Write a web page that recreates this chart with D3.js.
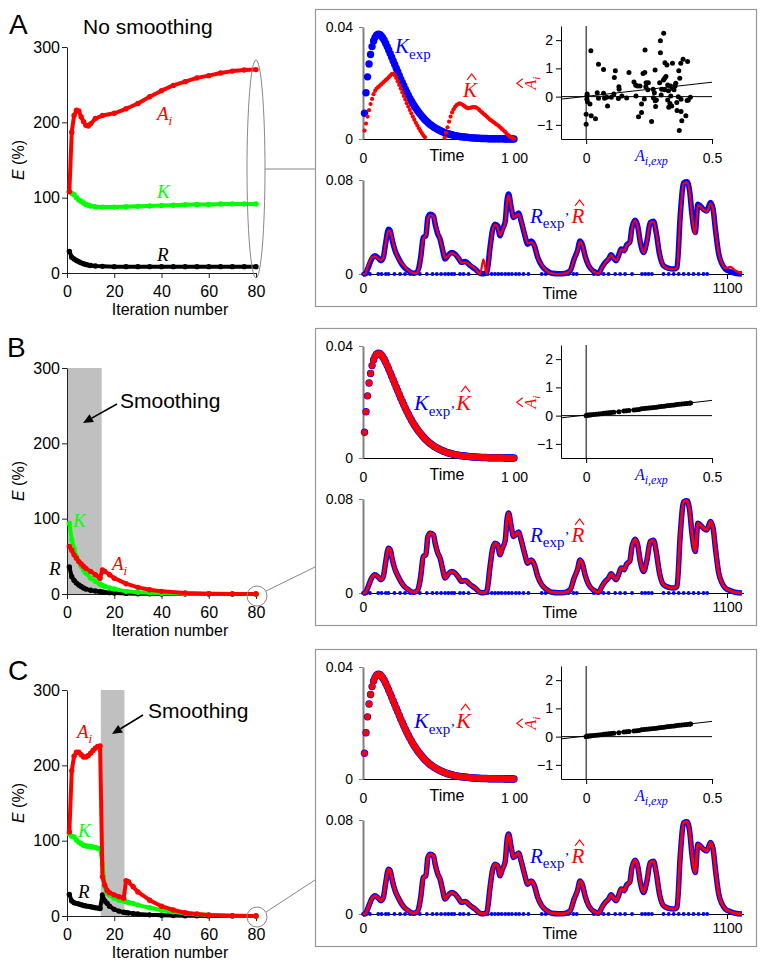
<!DOCTYPE html>
<html><head><meta charset="utf-8">
<script src="https://cdn.jsdelivr.net/npm/d3@7"></script>
<style>body{margin:0;background:#fff}svg{display:block}</style>
</head><body><svg id="c" width="766" height="967"></svg>
<script>
// ---------------- DATA ----------------
const xTicksIter = [0, 20, 40, 60, 80];
const yTicksE = [0, 100, 200, 300];

// Panel A (no smoothing)
const iterA = [1,2,3,4,5,6,7,8,9,10,12,15,20,25,30,35,40,45,50,55,60,65,70,75,80];
const aiA = [108,187,209,216,215,207,201,196,195,198,205,209,212,218,225,234,242,249,254,259,262,265.5,268,269.5,270];
const kA  = [108,106,104,100,97,95,93,91,90,89,88,87.5,87.5,88,88.5,89,89.5,90,90.5,91,91,91.5,91.7,91.7,91.7];
const rA  = [28.7,21,18.5,16.5,15,13.5,12.3,11.2,10.5,10,9.2,8.8,8.4,8.4,8.4,8.4,8.4,8.4,8.4,8.4,8.4,8.4,8.4,8.4,8.4];

// Panel B (smoothing iterations 0-15)
const iterB = [1,2,3,4,5,6,7,8,10,12,14,15,16,18,20,25,30,35,40,50,60,70,80];
const aiB = [63,58,52,47.6,43,40,37,34,30,25.6,21,32,30,25.6,21,13.7,8.8,5.7,3.5,1.3,0.4,0.1,0];
const kB  = [94,72,60,50,43,37,32,28,21,17,13,11.5,10,8,6.6,3.5,2.2,1.5,1,0.4,0.2,0.1,0];
const rB  = [36,23,18,14.5,12,10,8,6.5,5,4,3,2.6,2.2,1.8,1.3,0.8,0.4,0.2,0.1,0,0,0,0];
const bandB = [0, 14.7];

// Panel C (smoothing iterations 15-25)
const iterC = [1,2,3,4,5,6,7,8,9,10,11,12,13,14,15,16,17,18,20,22,24,25,26,28,30,35,40,45,50,55,60,70,80];
const aiC = [111.6,193,212,217.5,217.5,214,211,211,213,216,219.6,222.7,225,225.8,52,41,34,31,28,25.6,23.4,46.7,45.4,38.8,32,21,13,8,4.4,2.6,1.3,0.4,0];
const kC  = [109,106,105,101,98,96,94,93,92.5,92,91.5,91,90,89.5,70,39,30,28,23.4,21,20,19,18,16.5,14.5,11,8,5.7,3.5,2.2,1.3,0.4,0];
const rC  = [28.7,20,17.6,16.8,15.9,15,14,13.3,12.8,12.3,11.6,11,10.5,10,27.8,20,16.8,13,8.8,6.5,5,4.4,4,3.3,2.6,1.5,0.9,0.6,0.4,0.2,0.1,0,0];
const bandC = [14.3, 24.3];

// K curves (time 1..100)
const kTime = d3.range(1, 101);
const kExp = [0.0092,0.0165,0.0222,0.0268,0.0302,0.0330,0.0350,0.0363,0.0371,0.0374,
0.0373,0.0369,0.0362,0.0353,0.0342,0.0330,0.0318,0.0305,0.0292,0.0279,
0.0266,0.0253,0.0240,0.0227,0.0214,0.0202,0.0190,0.0178,0.0167,0.0156,
0.0146,0.0136,0.0127,0.0118,0.0110,0.0102,0.0095,0.0088,0.0081,0.0075,
0.0069,0.0064,0.0059,0.0054,0.0050,0.0046,0.0042,0.0039,0.0036,0.0033,
0.0030,0.0028,0.0025,0.0023,0.0021,0.0019,0.0018,0.0016,0.0015,0.0013,
0.0012,0.0011,0.0010,0.0009,0.0008,0.0008,0.0007,0.0006,0.0006,0.0005,
0.0005,0.0004,0.0004,0.0004,0.0003,0.0003,0.0003,0.0002,0.0002,0.0002,
0.0002,0.0002,0.0001,0.0001,0.0001,0.0001,0.0001,0.0001,0.0001,0.0001,
0.0001,0.0001,0.0001,0,0,0,0,0,0,0];
// K-hat, panel A (two parts; the middle part is below zero and not shown)
const kHatTimeA1 = d3.range(1, 42);
const kHatA1 = [0.0030,0.0055,0.0080,0.0103,0.0125,0.0143,0.0160,0.0172,0.0180,0.0185,
0.0190,0.0195,0.0200,0.0205,0.0210,0.0215,0.0220,0.0226,0.0232,0.0234,
0.0228,0.0218,0.0206,0.0193,0.0180,0.0167,0.0154,0.0141,0.0128,0.0116,
0.0104,0.0092,0.0080,0.0069,0.0058,0.0048,0.0038,0.0029,0.0021,0.0013,0.0006];
const kHatTimeA2 = d3.range(54, 101);
const kHatA2 = [0.0004,0.0022,0.0042,0.0062,0.0080,0.0095,0.0106,0.0115,0.0121,0.0125,
0.0127,0.0125,0.0122,0.0118,0.0114,0.0111,0.0110,0.0111,0.0113,0.0114,
0.0114,0.0112,0.0109,0.0104,0.0099,0.0094,0.0089,0.0085,0.0080,0.0075,
0.0070,0.0066,0.0062,0.0058,0.0054,0.0050,0.0046,0.0041,0.0036,0.0031,
0.0026,0.0020,0.0015,0.0010,0.0006,0.0003,0.0001];

// Scatter, panel A
const scatAx = [0.0185,0,0,0.02,0.037,0.004,0.003,0.005,0.015,0.049,
0.069,0.044,0.049,0.069,0.073,0.085,0.10,0.11,0.116,0.112,
0.13,0.131,0.128,0.161,0.17,0.19,0.197,0.198,0.204,0.208,
0.214,0.22,0.22,0.226,0.233,0.234,0.231,0.238,0.245,0.26,
0.266,0.267,0.271,0.274,0.276,0.279,0.274,0.295,0.295,0.292,
0.298,0.30,0.308,0.307,0.312,0.313,0.317,0.321,0.324,0.324,
0.327,0.328,0.333,0.336,0.34,0.343,0.343,0.349,0.353,0.36,
0.361,0.366,0.368,0.372,0.37,0.376,0.377,0.38,0.377,0.385,
0.396,0.403,0.401,0.406,0.414,0.356,0.312,0.142,0.082,0.237,
0.247,0.003,0.335];
const scatAy = [1.62,-0.98,-0.62,-0.68,-0.78,0.09,-0.09,-0.18,-0.26,1.15,
0.96,0.14,-0.06,0.12,-0.06,-0.33,-0.02,0.09,0.92,0.68,
0.35,0.26,-0.07,-0.05,0.85,0.52,0.40,0.02,0.38,-0.71,
0.38,-0.56,-0.26,0.82,0.85,1.65,-0.08,0.49,0.24,-0.88,
0.26,-0.04,0.14,0.94,-0.35,-0.12,-0.15,1.98,1.55,0.49,
0.06,0.26,2.24,0.59,0.65,1.20,0.71,1.12,0.41,-0.12,
0.21,-0.38,-0.24,0.02,-0.33,1.18,0.29,0.24,0.38,-0.21,
-0.49,0.00,0.92,0.65,-1.20,1.18,-0.09,-0.85,-0.53,1.32,
-0.68,1.24,-0.14,-0.12,-0.02,0.47,0.24,0.02,-0.02,0.35,
0.49,0.02,0.38];
const fitA = [-0.09, 0.51];   // y at x = -0.1 and x = 0.5
// Scatter, panels B and C
const scatBx = [0,0.002,0.005,0.01,0.015,0.02,0.03,0.04,0.05,0.06,0.07,0.08,0.09,0.1,0.11,0.13,0.15,0.16,0.17,0.19,0.2,0.21,0.22,0.23,0.24,0.25,0.26,0.27,0.28,0.29,0.3,0.31,0.32,0.33,0.34,0.35,0.36,0.37,0.38,0.39,0.4,0.41,0.415];
const scatBy = [0.00,0.01,0.01,0.02,0.02,0.03,0.04,0.05,0.06,0.07,0.08,0.09,0.10,0.11,0.12,0.14,0.16,0.17,0.18,0.20,0.21,0.22,0.24,0.25,0.26,0.27,0.28,0.29,0.30,0.31,0.32,0.33,0.35,0.36,0.37,0.38,0.39,0.40,0.41,0.42,0.43,0.44,0.45];
const fitB = [-0.08, 0.54];

// R curves (time 0..1145)
const rTime = [0,6,16,26,36,46,54,61,68,77,
82,89,97,107,117,127,137,152,162,169,
175,182,190,196,203,213,218,226,233,240,
248,256,268,278,288,298,309,324,339,354,
364,374,384,391,399,407,414,421,430,435,
440,448,455,470,478,488,498,508,518,528,
540,556,571,590,610,626,638,648,656,664,
671,682,697,712,722,732,742,750,757,765,
772,780,789,797,806,813,823,830,838,848,
858,868,878,886,896,908,924,939,949,959,
969,979,987,994,1004,1012,1019,1029,1039,1050,
1058,1065,1075,1085,1095,1110,1125,1145];
const rExp = [0,0,0.0057,0.0127,0.0155,0.0136,0.0113,0.0136,0.0254,0.038,
0.037,0.028,0.0198,0.0136,0.0085,0.005,0.0028,0.0006,0.0014,0.0057,
0.0155,0.031,0.0325,0.048,0.0509,0.0495,0.0424,0.034,0.0297,0.0212,
0.0127,0.0155,0.0184,0.017,0.0136,0.0099,0.0107,0.0071,0.0042,0.0006,
0.0002,0.0014,0.0226,0.0367,0.0424,0.041,0.0325,0.038,0.045,0.062,
0.068,0.0565,0.048,0.052,0.045,0.034,0.0254,0.028,0.024,0.0141,
0.0071,0.0028,0.0006,0.0002,0.0005,0.0028,0.0127,0.0198,0.028,0.024,
0.0155,0.0071,0.0023,0.0006,0.0057,0.0099,0.0127,0.0164,0.0136,0.0113,
0.0155,0.0212,0.0198,0.0249,0.0269,0.0396,0.0458,0.041,0.0269,0.0184,
0.028,0.0438,0.045,0.0353,0.017,0.0071,0.0048,0.0042,0.0057,0.0509,
0.0777,0.0786,0.0707,0.0509,0.0353,0.0594,0.058,0.0551,0.0537,0.0608,
0.0551,0.038,0.017,0.0085,0.0042,0.002,0.0006,0];
const rHatA = [0,0,0.0075,0.014,0.0150,0.0130,0.0118,0.0140,0.0250,0.037,
0.0365,0.029,0.020,0.0130,0.0090,0.0060,0.0030,0.0008,0.0010,0.0050,
0.0150,0.030,0.033,0.047,0.050,0.049,0.043,0.035,0.029,0.022,
0.0135,0.0150,0.0180,0.0165,0.0140,0.0095,0.0100,0.0075,0.0045,0.0000,
0.0125,0.0000,0.0220,0.036,0.042,0.040,0.033,0.037,0.044,0.061,
0.067,0.057,0.048,0.051,0.045,0.035,0.026,0.027,0.024,0.014,
0.0075,0.0025,0.0004,0.0000,0.0004,0.0030,0.0125,0.0195,0.0275,0.0235,
0.0150,0.0075,0.0020,0.0004,0.0055,0.0095,0.0130,0.0160,0.0135,0.0115,
0.0150,0.0210,0.0195,0.0245,0.0265,0.0390,0.0455,0.0405,0.0270,0.0180,
0.0275,0.0435,0.0445,0.0350,0.0175,0.0070,0.0045,0.0040,0.0055,0.0500,
0.0770,0.0780,0.0700,0.0500,0.0340,0.0585,0.0575,0.0545,0.0530,0.0600,
0.0545,0.0375,0.0175,0.0090,0.0050,0.0060,0.0030,0.0005];
// blue markers lying on the baseline of the R plot (times)
const rDots = [0,11,21,46,56,69,77,95,112,127,142,152,172,193,210,223,236,248,258,268,276,293,304,319,377,389,399,409,419,430,440,450,462,472,485,500,540,552,576,591,606,621,636,646,697,727,742,762,777,792,813,843,853,863,873,908,924,939,954,969,984,999,1014,1029,1040];

// ---------------- DRAWING ----------------
const SANS = "'Liberation Sans', Arial, sans-serif";
const SERIF = "'Liberation Serif', 'Times New Roman', serif";
const RED = "#ff0000", BLUE = "#0000ff", GREEN = "#00ff00";
const svg = d3.select("#c");

function styleAxis(a, fs) {
  a.attr("font-family", SANS).attr("font-size", fs);
  a.selectAll("text").attr("fill", "#000");
}

function math(g, x, y, parts, opt = {}) {
  const grp = g.append("g");
  let cx = 0;
  parts.forEach(p => {
    const t = grp.append("text").attr("x", cx).attr("y", p.dy || 0).text(p.t)
      .attr("font-family", SERIF).attr("font-size", p.s)
      .attr("font-style", p.it ? "italic" : "normal").attr("fill", p.c);
    const w = t.node().getComputedTextLength();
    if (p.hat) {
      const hx = cx + w / 2 + (p.it ? p.s * 0.08 : 0);
      const hy = -p.s * 0.72 - 2;
      grp.append("path").attr("d", `M${hx - 4.5},${hy} L${hx},${hy - 6} L${hx + 4.5},${hy}`)
        .attr("stroke", p.c).attr("fill", "none").attr("stroke-width", 1.1);
    }
    cx += w + (p.gap || 0);
  });
  if (opt.rotate) grp.attr("transform", `translate(${x},${y}) rotate(-90) translate(${-cx / 2},${parts[0].s * 0.33})`);
  else grp.attr("transform", `translate(${x},${y})`);
  return grp;
}

function arrow(g, x1, y1, x2, y2) {
  const a = Math.atan2(y2 - y1, x2 - x1), L = 10, W = 4.5;
  const bx = x2 - L * Math.cos(a), by = y2 - L * Math.sin(a);
  g.append("line").attr("x1", x1).attr("y1", y1).attr("x2", bx).attr("y2", by).attr("stroke", "#000").attr("stroke-width", 1.6);
  g.append("path").attr("d", `M${x2},${y2} L${bx - W * Math.sin(a)},${by + W * Math.cos(a)} L${bx + W * Math.sin(a)},${by - W * Math.cos(a)} Z`).attr("fill", "#000");
}

function leftPlot(p) {
  const g = svg.append("g");
  const x = d3.scaleLinear([0, 80], [67, 256]);
  const y = d3.scaleLinear([0, 300], [p.y0, p.y0 - 226]);
  if (p.band) g.append("rect").attr("x", x(p.band[0])).attr("width", x(p.band[1]) - x(p.band[0]))
    .attr("y", y(300)).attr("height", y(0) - y(300)).attr("fill", "#c0c0c0");
  const ya = g.append("g").attr("transform", "translate(67,0)")
    .call(d3.axisLeft(y).tickValues(yTicksE).tickSize(5).tickSizeOuter(0));
  styleAxis(ya, 16); ya.selectAll("text").attr("x", -7);
  ya.selectAll("path,line").attr("stroke", "#222");
  const xa = g.append("g").attr("transform", `translate(0,${p.y0})`)
    .call(d3.axisBottom(x).tickValues(xTicksIter).tickSize(5).tickSizeOuter(0));
  styleAxis(xa, 16); xa.selectAll("text").attr("y", 24).attr("dy", 0);
  xa.selectAll("path,line").attr("stroke", "#222");
  g.append("text").attr("x", 170).attr("y", p.y0 + 42).attr("text-anchor", "middle")
    .attr("font-family", SANS).attr("font-size", 16).text("Iteration number");
  const yl = g.append("text").attr("transform", `translate(24,${p.y0 - 113}) rotate(-90)`).attr("text-anchor", "middle")
    .attr("font-family", SANS).attr("font-size", 16);
  yl.append("tspan").attr("font-style", "italic").text("E");
  yl.append("tspan").text(" (%)");
  const series = [[p.r, "#000"], [p.k, GREEN], [p.ai, RED]];
  const line = d3.line().x((d, i) => x(p.it[i])).y(d => y(d));
  series.forEach(([vals, col]) => {
    g.append("path").attr("d", line(vals)).attr("fill", "none").attr("stroke", col).attr("stroke-width", 4).attr("stroke-linejoin", "round");
    g.selectAll(null).data(vals).enter().append("circle")
      .attr("cx", (d, i) => x(p.it[i])).attr("cy", d => y(d)).attr("r", 2.7).attr("fill", col);
  });
  g.append("text").attr("x", p.lx).attr("y", p.ly).attr("font-family", SANS).attr("font-size", 28).text(p.letter);
  math(g, p.aiL[0], p.aiL[1], [{t: "A", it: 1, s: 19, c: RED}, {t: "i", it: 1, s: 13, c: RED, dy: 5}]);
  math(g, p.kL[0], p.kL[1], [{t: "K", it: 1, s: 19, c: GREEN}]);
  math(g, p.rL[0], p.rL[1], [{t: "R", it: 1, s: 19, c: "#000"}]);
  return {g, x, y};
}

function rightBox(b) {
  const T = b.T;
  const g = svg.append("g");
  g.append("rect").attr("x", 315.5).attr("y", T + 0.5).attr("width", 441).attr("height", 297)
    .attr("fill", "none").attr("stroke", "#999").attr("stroke-width", 1.2);
  // K plot
  const xK = d3.scaleLinear([0, 100], [363, 514]);
  const yK = d3.scaleLinear([0, 0.04], [T + 130, T + 18]);
  const kya = g.append("g").attr("transform", "translate(363,0)")
    .call(d3.axisLeft(yK).tickValues([0, 0.04]).tickFormat(d => d === 0 ? "0" : "0.04").tickSize(4).tickSizeOuter(0));
  styleAxis(kya, 14); kya.selectAll("text").attr("x", -10);
  kya.select(".domain").attr("stroke", "#808080").attr("stroke-width", 2);
  kya.selectAll("line").attr("stroke", "#808080");
  const kxa = g.append("g").attr("transform", `translate(0,${T + 130})`)
    .call(d3.axisBottom(xK).tickValues([0, 100]).tickFormat(d => d === 0 ? "0" : "1 00").tickSize(0).tickSizeOuter(0));
  styleAxis(kxa, 14); kxa.selectAll("text").attr("y", 24).attr("dy", 0);
  kxa.select(".domain").attr("stroke", "#000");
  g.append("text").attr("x", 447).attr("y", T + 152).attr("text-anchor", "middle").attr("font-family", SANS).attr("font-size", 16).text("Time");
  g.selectAll(null).data(kExp).enter().append("circle")
    .attr("cx", (d, i) => xK(kTime[i])).attr("cy", d => yK(d)).attr("r", 3.7).attr("fill", BLUE);
  b.kHat.forEach(([ts, vs, r]) => {
    g.selectAll(null).data(vs).enter().append("circle")
      .attr("cx", (d, i) => xK(ts[i])).attr("cy", d => yK(d)).attr("r", r).attr("fill", RED);
  });
  b.kLabel(g);

  // scatter
  const xS = d3.scaleLinear([-0.1, 0.5], [561, 712]);
  const yS = d3.scaleLinear([-1.5, 2.5], [T + 130, T + 17]);
  const sya = g.append("g").attr("transform", "translate(561,0)")
    .call(d3.axisLeft(yS).tickValues([-1, 0, 1, 2]).tickFormat(d3.format("d")).tickSize(5).tickSizeOuter(0));
  styleAxis(sya, 14); sya.selectAll("text").attr("x", -8);
  const sxa = g.append("g").attr("transform", `translate(0,${T + 130})`)
    .call(d3.axisBottom(xS).tickValues([0, 0.5]).tickFormat(d => d === 0 ? "0" : "0.5").tickSize(5).tickSizeOuter(0));
  styleAxis(sxa, 14); sxa.selectAll("text").attr("y", 24).attr("dy", 0);
  g.append("line").attr("x1", xS(0)).attr("x2", xS(0)).attr("y1", yS(-1.5)).attr("y2", yS(2.5)).attr("stroke", "#000");
  g.append("line").attr("x1", xS(-0.1)).attr("x2", xS(0.5)).attr("y1", yS(0)).attr("y2", yS(0)).attr("stroke", "#000");
  g.selectAll(null).data(b.sy).enter().append("circle")
    .attr("cx", (d, i) => xS(b.sx[i])).attr("cy", d => yS(d)).attr("r", 2.5).attr("fill", "#000");
  g.append("line").attr("x1", xS(-0.1)).attr("x2", xS(0.5)).attr("y1", yS(b.fit[0])).attr("y2", yS(b.fit[1])).attr("stroke", "#000").attr("stroke-width", 1);
  math(g, 531, T + 74, [{t: "A", it: 1, s: 16, c: RED, hat: 1}, {t: "i", it: 1, s: 11, c: RED, dy: 4}], {rotate: 1});
  math(g, 635, T + 152, [{t: "A", it: 1, s: 16, c: BLUE}, {t: "i,exp", it: 1, s: 12, c: BLUE, dy: 4}]);

  // R plot
  const xR = d3.scaleLinear([0, 1100], [363, 727]);
  const yR = d3.scaleLinear([0, 0.08], [T + 265, T + 171]);
  const rya = g.append("g").attr("transform", "translate(363,0)")
    .call(d3.axisLeft(yR).tickValues([0, 0.08]).tickFormat(d => d === 0 ? "0" : "0.08").tickSize(4).tickSizeOuter(0));
  styleAxis(rya, 14); rya.selectAll("text").attr("x", -10);
  rya.select(".domain").attr("stroke", "#808080").attr("stroke-width", 2);
  rya.selectAll("line").attr("stroke", "#808080");
  const xR2 = xR.copy().domain([0, 1150]).range([363, xR(1150)]);
  const rxa = g.append("g").attr("transform", `translate(0,${T + 265})`)
    .call(d3.axisBottom(xR2).tickValues([0, 1100]).tickFormat(d3.format("d")).tickSize(5).tickSizeOuter(0));
  styleAxis(rxa, 14); rxa.selectAll("text").attr("y", 19).attr("dy", 0);
  rxa.select(".tick line").attr("stroke-opacity", 0);
  g.append("text").attr("x", 560).attr("y", T + 290).attr("text-anchor", "middle").attr("font-family", SANS).attr("font-size", 16).text("Time");
  g.selectAll(null).data(rDots).enter().append("circle")
    .attr("cx", d => xR(d)).attr("cy", yR(0)).attr("r", 1.9).attr("fill", BLUE);
  const rl = d3.line().x((d, i) => xR(rTime[i])).y(d => yR(d)).curve(d3.curveMonotoneX);
  g.append("path").attr("d", rl(rExp)).attr("fill", "none").attr("stroke", BLUE).attr("stroke-width", 5.5).attr("stroke-linejoin", "round");
  g.append("path").attr("d", rl(b.rHat)).attr("fill", "none").attr("stroke", RED).attr("stroke-width", b.rHatW).attr("stroke-linejoin", "round");
  math(g, 530, T + 214, [{t: "R", it: 1, s: 21, c: BLUE}, {t: "exp", s: 15, c: BLUE, dy: 5}, {t: "\u2019", s: 15, c: BLUE, gap: 2},
    {t: "R", it: 1, s: 21, c: RED, hat: 1}]);
  return g;
}

// ----- Panel A -----
const pA = leftPlot({letter: "A", lx: 9, ly: 34, y0: 273, it: iterA, ai: aiA, k: kA, r: rA, band: null,
  aiL: [157, 120], kL: [157, 198], rL: [157, 261]});
svg.append("text").attr("x", 83).attr("y", 34).attr("font-family", SANS).attr("font-size", 21).text("No smoothing");
svg.append("ellipse").attr("cx", 256).attr("cy", 169).attr("rx", 9).attr("ry", 109).attr("fill", "none").attr("stroke", "#888");
svg.append("line").attr("x1", 265).attr("y1", 169).attr("x2", 315).attr("y2", 169).attr("stroke", "#888");
rightBox({T: 9, kHat: [[kHatTimeA1, kHatA1, 2.1], [kHatTimeA2, kHatA2, 2.1]], sx: scatAx, sy: scatAy, fit: fitA, rHat: rHatA, rHatW: 2.2,
  kLabel: g => {
    math(g, 395, 53, [{t: "K", it: 1, s: 21, c: BLUE}, {t: "exp", s: 15, c: BLUE, dy: 6}]);
    math(g, 463, 97, [{t: "K", it: 1, s: 21, c: RED, hat: 1}]);
  }});

// ----- Panel B -----
const pB = leftPlot({letter: "B", lx: 7, ly: 357, y0: 594, it: iterB, ai: aiB, k: kB, r: rB, band: bandB,
  aiL: [112, 570], kL: [73, 527], rL: [49, 575]});
svg.append("text").attr("x", 120).attr("y", 408).attr("font-family", SANS).attr("font-size", 21).text("Smoothing");
arrow(svg, 117, 404, 83, 423);
svg.append("circle").attr("cx", 257).attr("cy", 596).attr("r", 10).attr("fill", "none").attr("stroke", "#888");
svg.append("line").attr("x1", 266).attr("y1", 591).attr("x2", 315).attr("y2", 567).attr("stroke", "#888");
const kLabelBC = y => g => {
  math(g, 414, y, [{t: "K", it: 1, s: 22, c: BLUE}, {t: "exp", s: 15, c: BLUE, dy: 6}, {t: "\u2019", s: 15, c: BLUE, dy: 6, gap: 1},
    {t: "K", it: 1, s: 22, c: RED, hat: 1}]);
};
rightBox({T: 328, kHat: [[kTime, kExp, 3.1]], sx: scatBx, sy: scatBy, fit: fitB, rHat: rExp, rHatW: 3, kLabel: kLabelBC(410)});

// ----- Panel C -----
const pC = leftPlot({letter: "C", lx: 8, ly: 680, y0: 916, it: iterC, ai: aiC, k: kC, r: rC, band: bandC,
  aiL: [77, 738], kL: [78, 837], rL: [78, 898]});
svg.append("text").attr("x", 148).attr("y", 718).attr("font-family", SANS).attr("font-size", 21).text("Smoothing");
arrow(svg, 143, 715, 112, 734);
svg.append("circle").attr("cx", 257).attr("cy", 917).attr("r", 10).attr("fill", "none").attr("stroke", "#888");
svg.append("line").attr("x1", 266).attr("y1", 912).attr("x2", 315).attr("y2", 880).attr("stroke", "#888");
rightBox({T: 649, kHat: [[kTime, kExp, 3.1]], sx: scatBx, sy: scatBy, fit: fitB, rHat: rExp, rHatW: 3, kLabel: kLabelBC(728)});
</script></body></html>
